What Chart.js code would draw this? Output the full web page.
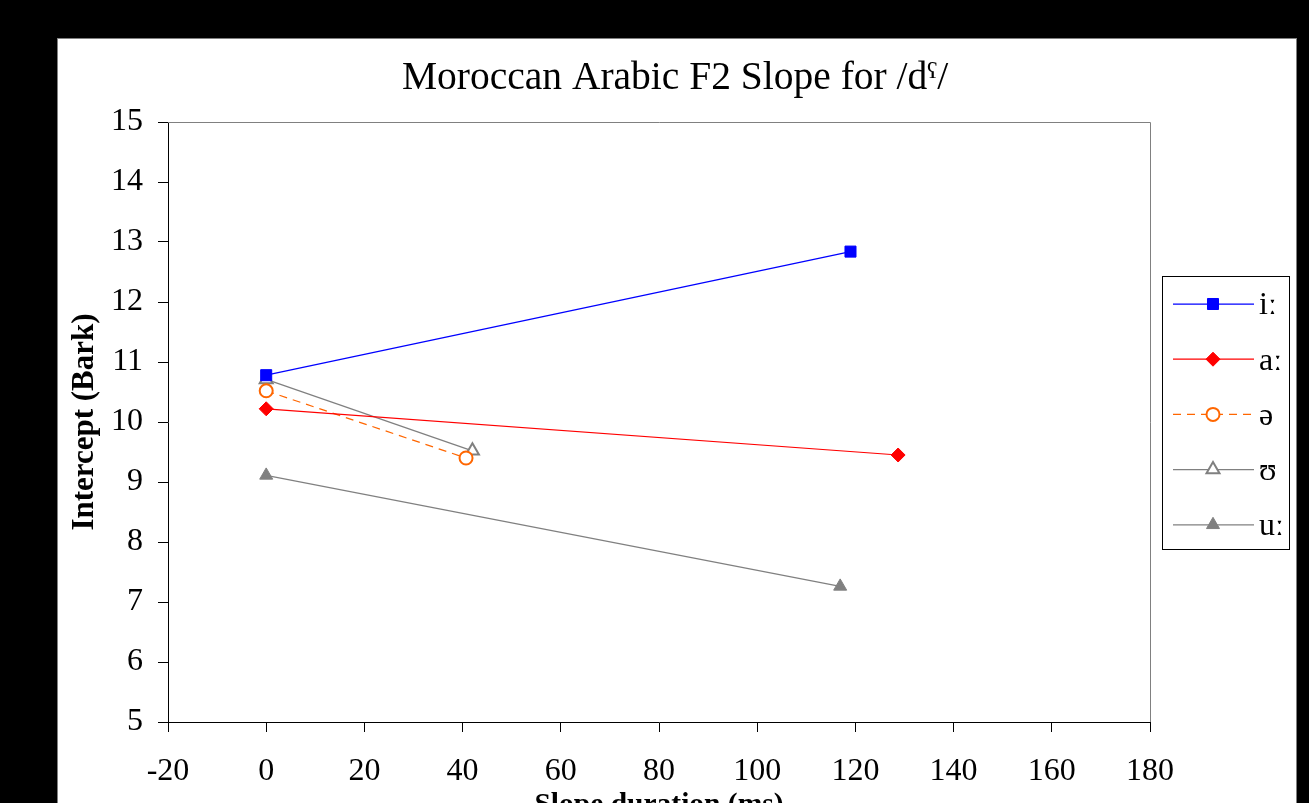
<!DOCTYPE html>
<html><head><meta charset="utf-8">
<script src="https://cdn.jsdelivr.net/npm/chart.js@4/dist/chart.umd.min.js"></script>
<style>
html,body{margin:0;padding:0;background:#000;overflow:hidden;width:1309px;height:803px}
#wrap{position:absolute;left:0;top:0;width:1309px;height:840px}
</style></head><body>
<div id="wrap"><canvas id="c" width="1309" height="840"></canvas></div>
<script>
// ---- data ----
const chartTitle = 'Moroccan Arabic F2 Slope for /d\u02E4/';
const xTitle = 'Slope duration (ms)';
const yTitle = 'Intercept (Bark)';
const seriesLabels = ['i\u02D0', 'a\u02D0', '\u0259', '\u028A', 'u\u02D0'];
const xTickValues = [-20, 0, 20, 40, 60, 80, 100, 120, 140, 160, 180];
const yTickValues = [5, 6, 7, 8, 9, 10, 11, 12, 13, 14, 15];

const iLongX = [0, 119.0];
const iLongY = [10.78, 12.84];
const aLongX = [0, 128.7];
const aLongY = [10.22, 9.45];
const schwaX = [0, 40.7];
const schwaY = [10.52, 9.40];
const upsX = [0, 42.0];
const upsY = [10.71, 9.52];
const uLongX = [0, 116.9];
const uLongY = [9.11, 7.26];

const toPts = (xs, ys) => xs.map((x, i) => ({x: x, y: ys[i]}));

const FONT = "'Liberation Serif', 'Times New Roman', serif";
Chart.defaults.font.family = FONT;
Chart.defaults.color = '#000';

const panelPlugin = {
  id: 'panel',
  beforeDraw(chart) {
    const ctx = chart.ctx;
    ctx.save();
    ctx.fillStyle = '#ffffff';
    ctx.fillRect(57, 38, 1240, 810);
    ctx.strokeStyle = '#808080';
    ctx.lineWidth = 1;
    ctx.strokeRect(57.5, 38.5, 1239, 810);
    ctx.restore();
  },
  beforeDatasetsDraw(chart) {
    const a = chart.chartArea;
    const ctx = chart.ctx;
    ctx.save();
    ctx.strokeStyle = '#808080';
    ctx.lineWidth = 1;
    ctx.beginPath();
    ctx.moveTo(a.left, Math.round(a.top) + 0.5);
    ctx.lineTo(Math.round(a.right) + 0.5, Math.round(a.top) + 0.5);
    ctx.lineTo(Math.round(a.right) + 0.5, a.bottom);
    ctx.stroke();
    ctx.restore();
  }
};

const legendPlugin = {
  id: 'boxLegend',
  afterDraw(chart) {
    const ctx = chart.ctx;
    const L = 1162, T = 276, R = 1289, B = 549;
    ctx.save();
    ctx.fillStyle = '#fff';
    ctx.fillRect(L, T, R - L, B - T);
    ctx.strokeStyle = '#000';
    ctx.lineWidth = 1;
    ctx.strokeRect(L + 0.5, T + 0.5, R - L, B - T);
    chart.data.datasets.forEach((ds, i) => {
      const y = 304 + i * 55.2;
      ctx.strokeStyle = ds.borderColor;
      ctx.lineWidth = ds.borderWidth;
      ctx.setLineDash(ds.borderDash || []);
      ctx.beginPath();
      ctx.moveTo(1173, y);
      ctx.lineTo(1254, y);
      ctx.stroke();
      ctx.setLineDash([]);
      ctx.fillStyle = ds.pointBackgroundColor;
      ctx.strokeStyle = ds.pointBorderColor;
      ctx.lineWidth = ds.pointBorderWidth;
      Chart.helpers.drawPoint(ctx, {pointStyle: ds.pointStyle, radius: ds.pointRadius, rotation: 0, borderWidth: ds.pointBorderWidth}, 1213, y);
      ctx.fillStyle = '#000';
      ctx.font = '32px ' + FONT;
      ctx.textAlign = 'left';
      ctx.textBaseline = 'middle';
      ctx.fillText(ds.label, 1259, y + 2);
    });
    ctx.restore();
  }
};

const mk = (label, xs, ys, line, dash, style, r, fill, stroke, bw) => ({
  label: label,
  data: toPts(xs, ys),
  showLine: true,
  borderColor: line,
  borderWidth: 1.25,
  borderDash: dash,
  pointStyle: style,
  pointRadius: r,
  pointHoverRadius: r,
  pointBackgroundColor: fill,
  pointBorderColor: stroke,
  pointBorderWidth: bw
});

const datasets = [
  mk(seriesLabels[0], iLongX, iLongY, '#0000ff', [], 'rect', 7.8, '#0000ff', '#0000ff', 1),
  mk(seriesLabels[1], aLongX, aLongY, '#ff0000', [], 'rectRot', 7, '#ff0000', '#ff0000', 1),
  mk(seriesLabels[2], schwaX, schwaY, '#ff6600', [8, 6], 'circle', 6.5, '#ffffff', '#ff6600', 2),
  mk(seriesLabels[3], upsX, upsY, '#808080', [], 'triangle', 7.5, '#ffffff', '#808080', 2),
  mk(seriesLabels[4], uLongX, uLongY, '#808080', [], 'triangle', 7.5, '#808080', '#808080', 1)
];

new Chart(document.getElementById('c'), {
  type: 'scatter',
  data: {datasets: datasets},
  plugins: [panelPlugin, legendPlugin],
  options: {
    responsive: false,
    animation: false,
    events: [],
    layout: {padding: {left: 66, right: 25, top: 0, bottom: 0}},
    plugins: {
      legend: {display: false},
      tooltip: {enabled: false},
      title: {
        display: true,
        text: chartTitle,
        color: '#000',
        font: {size: 39.5, weight: 'normal', family: FONT},
        padding: {top: 55, bottom: 19.6}
      }
    },
    scales: {
      x: {
        type: 'linear',
        position: 'bottom',
        min: -20, max: 180,
        afterBuildTicks: (s) => { s.ticks = xTickValues.map(v => ({value: v})); },
        afterFit: (s) => { s.height = 118; },
        ticks: {font: {size: 32}, color: '#000', padding: 20, maxRotation: 0, autoSkip: false},
        grid: {display: true, drawOnChartArea: false, drawTicks: true, tickLength: 10, color: '#000'},
        border: {display: true, color: '#000', width: 1},
        title: {display: true, text: xTitle, color: '#000', font: {size: 29.5, weight: 'bold'}, padding: {top: 0, bottom: 17}}
      },
      y: {
        type: 'linear',
        position: 'left',
        min: 5, max: 15,
        afterBuildTicks: (s) => { s.ticks = yTickValues.map(v => ({value: v})); },
        afterFit: (s) => { s.width = 102; },
        ticks: {font: {size: 32}, color: '#000', padding: 15, autoSkip: false},
        grid: {display: true, drawOnChartArea: false, drawTicks: true, tickLength: 10, color: '#000'},
        border: {display: true, color: '#000', width: 1},
        title: {display: true, text: yTitle, color: '#000', font: {size: 31, weight: 'bold'}, padding: {top: 0, bottom: 0}}
      },
      yRight: {
        type: 'linear',
        position: 'right',
        axis: 'y',
        min: 5, max: 15,
        display: true,
        afterFit: (s) => { s.width = 134; },
        ticks: {display: false},
        grid: {display: false},
        border: {display: false}
      }
    }
  }
});
</script>
</body></html>
